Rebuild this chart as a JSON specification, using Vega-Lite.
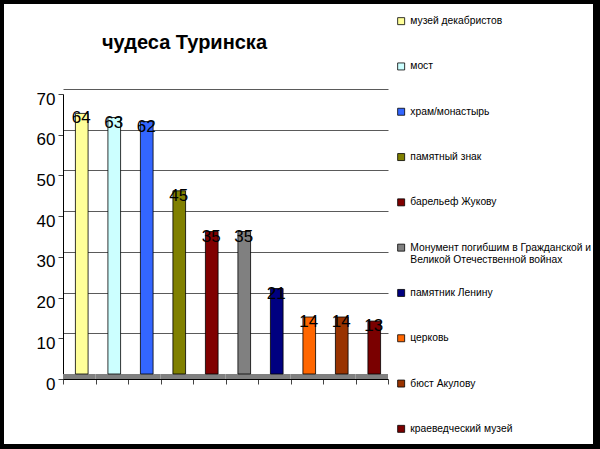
{
  "$schema": "https://vega.github.io/schema/vega-lite/v6.json",
  "width": 597,
  "height": 448,
  "autosize": "none",
  "padding": {"left": 0, "top": 0, "right": 3, "bottom": 1},
  "background": "black",
  "config": {
    "view": {"fill": "white", "stroke": "black", "strokeWidth": 8},
    "font": "Liberation Sans"
  },
  "title": {
    "text": "чудеса Туринска",
    "fontSize": 20,
    "fontWeight": "bold",
    "font": "Liberation Sans",
    "color": "black",
    "anchor": "start",
    "frame": "group",
    "dx": 102,
    "offset": -53
  },
  "data": {
    "values": [
      {"name": "музей декабристов", "value": 64},
      {"name": "мост", "value": 63},
      {"name": "храм/монастырь", "value": 62},
      {"name": "памятный знак", "value": 45},
      {"name": "барельеф Жукову", "value": 35},
      {"name": "Монумент погибшим в Гражданской и Великой Отечественной войнах", "value": 35},
      {"name": "памятник Ленину", "value": 21},
      {"name": "церковь", "value": 14},
      {"name": "бюст Акулову", "value": 14},
      {"name": "краеведческий музей", "value": 13}
    ]
  },
  "encoding": {
    "x": {
      "field": "name",
      "type": "nominal",
      "sort": null,
      "scale": {"range": [63, 388], "paddingInner": 0, "paddingOuter": 0},
      "axis": {
        "title": null,
        "labels": false,
        "orient": "bottom",
        "offset": -69,
        "domainColor": "black",
        "tickColor": "#444444",
        "tickSize": 5,
        "tickBand": "extent",
        "grid": false
      }
    }
  },
  "resolve": {"scale": {"y": "independent"}, "axis": {"y": "independent"}},
  "layer": [
    {
      "mark": {"type": "bar", "color": "#808080", "width": {"band": 1}},
      "encoding": {
        "y": {
          "datum": 0,
          "type": "quantitative",
          "scale": {"domain": [0, 70], "range": [374, 89], "nice": false, "zero": false},
          "axis": {
            "title": null,
            "orient": "left",
            "values": [10, 20, 30, 40, 50, 60, 70],
            "labels": false,
            "ticks": false,
            "domain": false,
            "grid": true,
            "gridColor": "#5a5a5a",
            "gridWidth": 1
          }
        },
        "y2": {"datum": -1.2}
      }
    },
    {
      "mark": {"type": "bar", "width": {"band": 0.39}, "xOffset": 2.5, "yOffset": -5, "y2Offset": -2, "stroke": "black", "strokeWidth": 0.8},
      "encoding": {
        "y": {
          "field": "value",
          "type": "quantitative",
          "scale": {"domain": [0, 70], "range": [379, 94], "nice": false},
          "axis": {
            "title": null,
            "orient": "left",
            "offset": -63,
            "values": [0, 10, 20, 30, 40, 50, 60, 70],
            "labelFontSize": 17,
            "labelColor": "black",
            "labelFont": "Liberation Sans",
            "labelPadding": 3,
            "labelOffset": 5,
            "domainColor": "black",
            "tickColor": "#444444",
            "tickSize": 5,
            "grid": false
          }
        },
        "color": {
          "field": "name",
          "type": "nominal",
          "sort": null,
          "scale": {
            "domain": [
              "музей декабристов",
              "мост",
              "храм/монастырь",
              "памятный знак",
              "барельеф Жукову",
              "Монумент погибшим в Гражданской и Великой Отечественной войнах",
              "памятник Ленину",
              "церковь",
              "бюст Акулову",
              "краеведческий музей"
            ],
            "range": ["#FFFF99", "#CCFFFF", "#3366FF", "#808000", "#800000", "#808080", "#000080", "#FF6600", "#993300", "#7A0000"]
          },
          "legend": {
            "orient": "none",
            "legendX": 396,
            "legendY": 16,
            "title": null,
            "padding": 0,
            "gridAlign": "all",
            "symbolType": "square",
            "symbolSize": 49,
            "symbolStrokeColor": "black",
            "symbolStrokeWidth": 0.8,
            "labelFont": "Liberation Sans",
            "labelFontSize": 10.3,
            "labelColor": "black",
            "labelLimit": 300,
            "labelOffset": 4,
            "rowPadding": 22.3,
            "labelExpr": "datum.label == 'Монумент погибшим в Гражданской и Великой Отечественной войнах' ? ['Монумент погибшим в Гражданской и', 'Великой Отечественной войнах'] : datum.label"
          }
        }
      }
    },
    {
      "mark": {"type": "text", "fontSize": 17, "xOffset": 2, "baseline": "middle", "color": "black", "font": "Liberation Sans"},
      "encoding": {
        "y": {
          "field": "value",
          "type": "quantitative",
          "scale": {"domain": [0, 70], "range": [379, 94], "nice": false},
          "axis": null
        },
        "text": {"field": "value", "type": "quantitative"}
      }
    }
  ]
}
